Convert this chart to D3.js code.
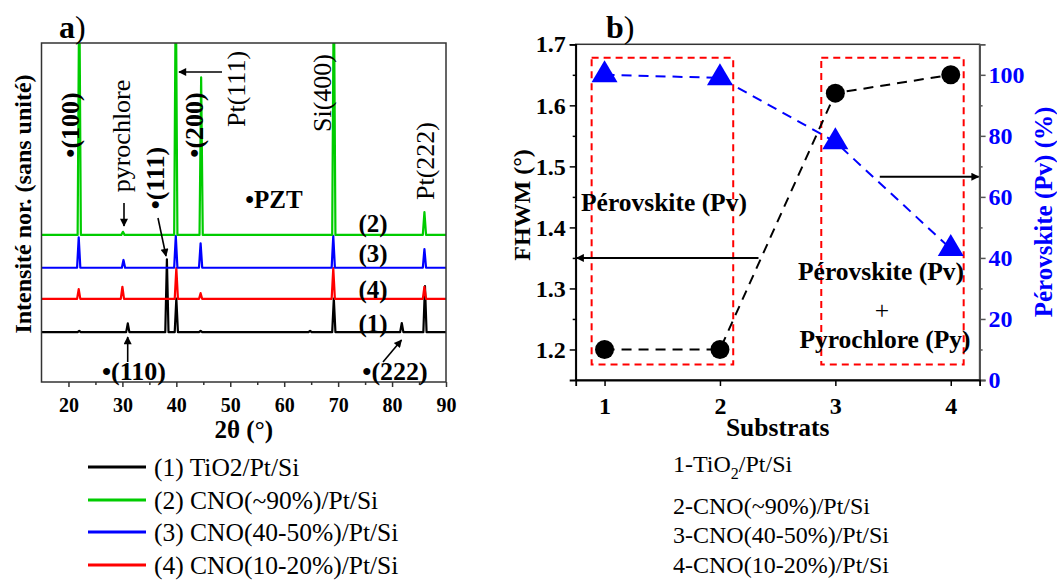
<!DOCTYPE html>
<html><head><meta charset="utf-8">
<script src="https://cdn.jsdelivr.net/npm/d3@7"></script>
<style>
body{margin:0;background:#fff;}
svg{display:block;font-family:"Liberation Serif","Times New Roman",serif;}
svg text{font-family:"Liberation Serif","Times New Roman",serif;}
</style></head><body>
<svg id="c" width="1057" height="580"></svg>
<script>
// ---------- Panel a data (XRD, intensity in arbitrary normalised units) ----------
const xrdLabels = ["(1) TiO2/Pt/Si","(2) CNO(~90%)/Pt/Si","(3) CNO(40-50%)/Pt/Si","(4) CNO(10-20%)/Pt/Si"];
const xrdTags = ["(1)","(2)","(3)","(4)"];
const xrdBaselines = [14.7, 43.4, 33.7, 24.5];
const peaks1 = [[22.0,15.1],[31.0,17.3],[38.25,36.2],[40.0,24.6],[44.5,15.1],[64.8,15.1],[69.2,24.6],[81.8,17.4],[86.1,28.3]];
const peaks2 = [[22.0,120],[30.1,44.3],[39.9,120],[44.6,89.9],[69.2,120],[86.0,50.1]];
const peaks3 = [[21.9,42.7],[30.2,36.0],[39.9,43.1],[44.5,40.9],[69.1,43.1],[86.0,39.2]];
const peaks4 = [[21.9,27.4],[30.0,28.1],[40.0,33.6],[44.5,26.2],[69.1,33.6],[86.0,28.1]];
const xTicksA = [20,30,40,50,60,70,80,90];
const xMinorA = [25,35,45,55,65,75,85];

// ---------- Panel b data ----------
const substrats = [1,2,3,4];
const fwhm = [1.2,1.2,1.62,1.65];
const perovskitePct = [100,99,78,43];
const fwhmTicks = [1.2,1.3,1.4,1.5,1.6,1.7];
const fwhmMinor = [1.25,1.35,1.45,1.55,1.65];
const pctTicks = [0,20,40,60,80,100];
const pctMinor = [10,30,50,70,90];
const substratLegend = ["2-CNO(~90%)/Pt/Si","3-CNO(40-50%)/Pt/Si","4-CNO(10-20%)/Pt/Si"];

const FONT = '"Liberation Serif","Times New Roman",serif';
const svg = d3.select("#c");
const defs = svg.append("defs");
defs.append("marker").attr("id","arr").attr("viewBox","0 0 10 10").attr("refX",9).attr("refY",5)
  .attr("markerWidth",11).attr("markerHeight",8).attr("markerUnits","userSpaceOnUse").attr("orient","auto")
  .append("path").attr("d","M0,0L10,5L0,10Z").attr("fill","#000");

function arrow(g,x1,y1,x2,y2,w){
  g.append("line").attr("x1",x1).attr("y1",y1).attr("x2",x2).attr("y2",y2)
   .attr("stroke","#000").attr("stroke-width",w||1.6).attr("marker-end","url(#arr)");
}
function txt(g,x,y,s,size,weight,opts){
  opts=opts||{};
  const t=g.append("text").attr("x",0).attr("y",0).attr("font-size",size).attr("font-weight",weight||"normal")
   .attr("font-family",FONT)
   .attr("fill",opts.fill||"#000").attr("text-anchor",opts.anchor||"start")
   .attr("dominant-baseline",opts.db||"auto")
   .attr("transform",`translate(${x},${y})`+(opts.rot?` rotate(${opts.rot})`:""))
   .text(s);
  return t;
}

// ================= Panel a =================
const A = {l:41.5, r:446, t:43, b:382};
const xA = d3.scaleLinear([15,90],[A.l,A.r]);
const yA = d3.scaleLinear([0,100],[A.b,A.t]);
defs.append("clipPath").attr("id","clipA").append("rect")
  .attr("x",A.l).attr("y",A.t).attr("width",A.r-A.l).attr("height",A.b-A.t);
const gA = svg.append("g");
const profiles = [peaks1,peaks2,peaks3,peaks4];
const colors = ["#000000","#00cc00","#0000ff","#ff0000"];
const drawOrder = [0,3,2,1];
const lineA = d3.line().x(d=>xA(d[0])).y(d=>yA(d[1]));
drawOrder.forEach(i=>{
  const base = xrdBaselines[i];
  const pts = [[15,base]];
  profiles[i].forEach(([p,h])=>pts.push([p-0.3,base],[p,h],[p+0.3,base]));
  pts.push([90,base]);
  gA.append("path").attr("d",lineA(pts)).attr("fill","none").attr("stroke",colors[i])
    .attr("stroke-width",2.2).attr("stroke-linejoin","round").attr("clip-path","url(#clipA)");
});
gA.append("rect").attr("x",A.l).attr("y",A.t).attr("width",A.r-A.l).attr("height",A.b-A.t)
  .attr("fill","none").attr("stroke","#333").attr("stroke-width",1.5);
const axA = gA.append("g").attr("transform",`translate(0,${A.b})`)
  .call(d3.axisBottom(xA).tickValues(xTicksA).tickSize(5).tickPadding(11));
axA.attr("font-family",FONT);
axA.select(".domain").remove();
axA.selectAll("line").attr("stroke","#333").attr("stroke-width",1.5);
axA.selectAll("text").attr("font-family",FONT).attr("font-weight","bold").attr("font-size",20).attr("fill","#000");
gA.append("g").attr("transform",`translate(0,${A.b})`)
  .call(d3.axisBottom(xA).tickValues(xMinorA).tickSize(3).tickFormat(""))
  .call(g=>{g.select(".domain").remove();g.selectAll("line").attr("stroke","#333").attr("stroke-width",1.5);});

txt(gA,(A.l+A.r)/2,438,"2θ (°)",25,"bold",{anchor:"middle"});
txt(gA,23,204,"Intensité nor. (sans unité)",24,"bold",{anchor:"middle",rot:-90,db:"central"});
const ta = txt(gA,59,38,"a",32,"bold"); ta.append("tspan").attr("font-weight","normal").text(")");

// annotations
txt(gA,70,125,"•(100)",26,"bold",{anchor:"middle",rot:-90,db:"central"});
txt(gA,121,136,"pyrochlore",26,"normal",{anchor:"middle",rot:-90,db:"central"});
arrow(gA,124,203,124,226);
txt(gA,155,178,"•(111)",26,"bold",{anchor:"middle",rot:-90,db:"central"});
arrow(gA,158,218,166,256);
txt(gA,194,125,"•(200)",26,"bold",{anchor:"middle",rot:-90,db:"central"});
arrow(gA,222,72,179,72);
txt(gA,236,89,"Pt(111)",26,"normal",{anchor:"middle",rot:-90,db:"central"});
txt(gA,322,93,"Si(400)",26,"normal",{anchor:"middle",rot:-90,db:"central"});
txt(gA,425,161,"Pt(222)",26,"normal",{anchor:"middle",rot:-90,db:"central"});
txt(gA,274,208,"•PZT",25,"bold",{anchor:"middle"});
const tagY = [323,223,253,289];
xrdTags.forEach((s,i)=>txt(gA,373,tagY[i],s,25,"bold",{anchor:"middle",db:"central"}));
txt(gA,134,371,"•(110)",26,"bold",{anchor:"middle",db:"central"});
arrow(gA,127.7,362,127.7,337);
txt(gA,395,371,"•(222)",26,"bold",{anchor:"middle",db:"central"});
arrow(gA,383,362,401.5,340);

// legend a
const legY = [467,500,532,565];
xrdLabels.forEach((s,i)=>{
  gA.append("line").attr("x1",88).attr("x2",146).attr("y1",legY[i]).attr("y2",legY[i])
    .attr("stroke",colors[i]).attr("stroke-width",3);
  txt(gA,154,legY[i],s,25.5,"normal",{db:"central"});
});

// ================= Panel b =================
const B = {l:575.7, r:979.6, t:44.3, b:380};
const xB = d3.scaleLinear([0.75,4.25],[B.l,B.r]);
const yL = d3.scaleLinear([1.15,1.7],[B.b,B.t]);
const yR = d3.scaleLinear([0,110],[B.b,B.t]);
const gB = svg.append("g");

// red dashed boxes
[[0.888,2.115],[2.878,4.112]].forEach(([a,b])=>{
  gB.append("rect").attr("x",xB(a)).attr("y",yL(1.678)).attr("width",xB(b)-xB(a)).attr("height",yL(1.1755)-yL(1.678))
    .attr("fill","none").attr("stroke","#ff0000").attr("stroke-width",2).attr("stroke-dasharray","7,5");
});

// frame
gB.append("rect").attr("x",B.l).attr("y",B.t).attr("width",B.r-B.l).attr("height",B.b-B.t)
  .attr("fill","none").attr("stroke","#333").attr("stroke-width",1.5);

// axes
const styleAx = (g,col,lab)=>{
  g.attr("font-family",FONT);
  g.select(".domain").attr("stroke",col).attr("stroke-width",1.8);
  g.selectAll("line").attr("stroke",col).attr("stroke-width",1.5);
  g.selectAll("text").attr("font-family",FONT).attr("font-weight","bold").attr("font-size",24).attr("fill",lab);
};
gB.append("g").attr("transform",`translate(${B.l},0)`)
  .call(d3.axisLeft(yL).tickValues(fwhmTicks).tickSize(6).tickPadding(4).tickFormat(d3.format(".1f")))
  .call(g=>styleAx(g,"#000","#000"));
gB.append("g").attr("transform",`translate(${B.l},0)`)
  .call(d3.axisLeft(yL).tickValues(fwhmMinor).tickSize(3).tickFormat(""))
  .call(g=>{g.select(".domain").remove();g.selectAll("line").attr("stroke","#000").attr("stroke-width",1.5);});
gB.append("g").attr("transform",`translate(${B.r},0)`)
  .call(d3.axisRight(yR).tickValues(pctTicks).tickSize(6).tickPadding(3))
  .call(g=>styleAx(g,"#555","#0000ff"));
gB.append("g").attr("transform",`translate(${B.r},0)`)
  .call(d3.axisRight(yR).tickValues(pctMinor).tickSize(3).tickFormat(""))
  .call(g=>{g.select(".domain").remove();g.selectAll("line").attr("stroke","#555").attr("stroke-width",1.5);});
gB.append("g").attr("transform",`translate(0,${B.b})`)
  .call(d3.axisBottom(xB).tickValues(substrats).tickSize(6).tickPadding(11).tickFormat(d3.format("d")))
  .call(g=>styleAx(g,"#000","#000"));

// series
const pairs = substrats.map((s,i)=>({s, f:fwhm[i], p:perovskitePct[i]}));
gB.append("path").attr("d",d3.line().x(d=>xB(d.s)).y(d=>yL(d.f))(pairs))
  .attr("fill","none").attr("stroke","#000").attr("stroke-width",2).attr("stroke-dasharray","10,7");
gB.append("path").attr("d",d3.line().x(d=>xB(d.s)).y(d=>yR(d.p))(pairs))
  .attr("fill","none").attr("stroke","#0000ff").attr("stroke-width",2).attr("stroke-dasharray","10,7");
gB.selectAll("circle.f").data(pairs).join("circle").attr("class","f")
  .attr("cx",d=>xB(d.s)).attr("cy",d=>yL(d.f)).attr("r",9.5).attr("fill","#000");
const tw=26, th=22;
gB.selectAll("path.tri").data(pairs).join("path").attr("class","tri")
  .attr("d",`M0,${-th*2/3}L${tw/2},${th/3}L${-tw/2},${th/3}Z`)
  .attr("transform",d=>`translate(${xB(d.s)},${yR(d.p)})`).attr("fill","#0000ff");

// arrows
arrow(gB,xB(2.334),yL(1.35),B.l+1,yL(1.35),2);
arrow(gB,xB(3.385),yL(1.483),B.r-1,yL(1.483),2);

// texts
txt(gB,581,211,"Pérovskite (Pv)",25.5,"bold");
txt(gB,881,280,"Pérovskite (Pv)",25.5,"bold",{anchor:"middle"});
txt(gB,882,310,"+",25.5,"normal",{anchor:"middle",db:"central"});
txt(gB,885,348,"Pyrochlore (Py)",25.5,"bold",{anchor:"middle"});
const tb = txt(gB,606,38,"b",32,"bold"); tb.append("tspan").attr("font-weight","normal").text(")");
txt(gB,(B.l+B.r)/2,427,"Substrats",25.5,"bold",{anchor:"middle",db:"central"});
txt(gB,522,205,"FHWM (°)",24,"bold",{anchor:"middle",rot:-90,db:"central"});
txt(gB,1043,212,"Pérovskite (Pv) (%)",25,"bold",{anchor:"middle",rot:-90,db:"central",fill:"#0000ff"});

// legend b
const l1 = txt(gB,673,472,"1-TiO",24,"normal");
l1.append("tspan").attr("font-size",16).attr("dy",7).text("2");
l1.append("tspan").attr("dy",-7).text("/Pt/Si");
const lbY = [514,543,573];
substratLegend.forEach((s,i)=>txt(gB,673,lbY[i],s,24,"normal"));
</script>
</body></html>
